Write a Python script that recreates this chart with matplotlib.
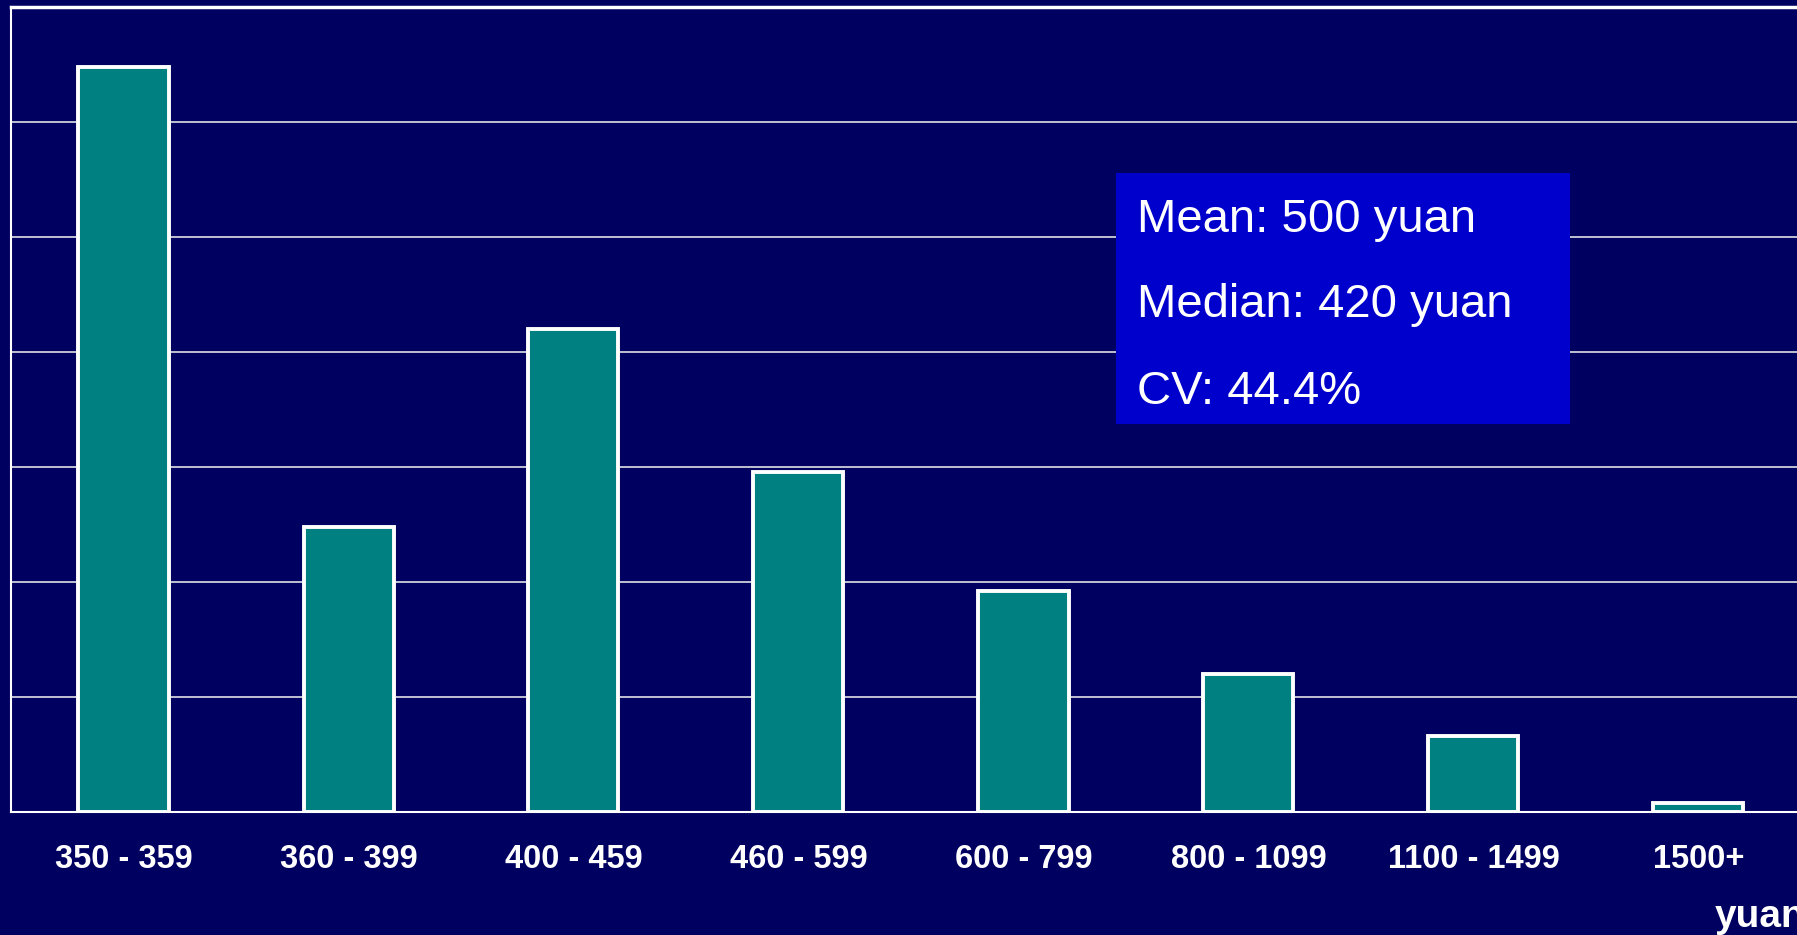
import matplotlib
matplotlib.use("Agg")
import matplotlib.pyplot as plt
from matplotlib.patches import Rectangle

categories = ["350-359", "360-399", "400-459", "460-599", "600-799",
              "800-1099", "1100-1499", "1500+"]
shares = [32.4, 12.4, 21.0, 14.8, 9.6, 6.0, 3.3, 0.4]
stats_lines = ["Mean: 500 yuan", "Median: 420 yuan", "CV: 44.4%"]
x_unit = "yuan"

BG = "#000060"
BAR = "#008080"
BOX = "#0000CC"
FONT = ["Liberation Sans", "DejaVu Sans"]

W, H = 1797, 935
fig = plt.figure(figsize=(W / 100, H / 100), dpi=100, facecolor=BG)
ax = fig.add_axes([11 / W, (H - 812) / H, 1800 / W, 805 / H])
ax.set_facecolor(BG)

xs = list(range(len(categories)))
ax.bar(xs, shares, width=0.40, color=BAR, edgecolor="white", linewidth=2.8, zorder=3)

ax.set_xlim(-0.5, len(categories) - 0.5)
ax.set_ylim(0, 35)
ax.set_yticks([5, 10, 15, 20, 25, 30])
ax.yaxis.grid(True, color="#d0d0dc", linewidth=1.3, zorder=0)
ax.set_axisbelow(True)
ax.tick_params(axis="y", length=0, labelleft=False)
ax.tick_params(axis="x", length=0, pad=23)
ax.set_xticks(xs)
labels = [c.replace("-", " - ") for c in categories]
ax.set_xticklabels(labels, color="white", fontsize=23.5, fontweight="bold", family=FONT)

for side in ["left", "bottom"]:
    ax.spines[side].set_color("white")
    ax.spines[side].set_linewidth(1.5)
ax.spines["top"].set_color("white")
ax.spines["top"].set_linewidth(2.5)
ax.spines["right"].set_visible(False)

# stats box
fig.patches.append(Rectangle((1116 / W, (H - 424) / H), 454 / W, 251 / H,
                             transform=fig.transFigure, facecolor=BOX,
                             edgecolor="none", zorder=5))
for line, yb in zip(stats_lines, [232, 317, 404]):
    fig.text(1137 / W, (H - yb) / H, line, color="white", fontsize=34,
             family=FONT, va="baseline", ha="left", zorder=6)

fig.text(1715 / W, (H - 927) / H, x_unit, color="white", fontsize=28,
         fontweight="bold", family=FONT, va="baseline", ha="left")

fig.savefig("out.png", dpi=100, facecolor=BG)
